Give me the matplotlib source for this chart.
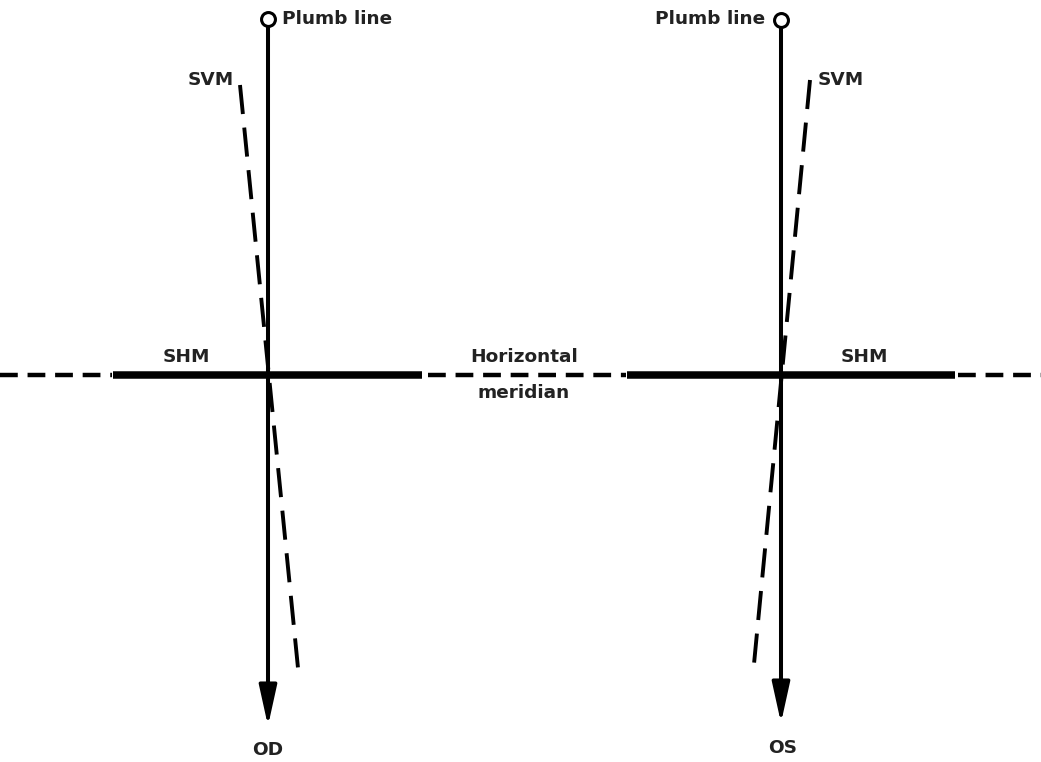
import matplotlib
matplotlib.use("Agg")
import matplotlib.pyplot as plt

plt.rcParams['font.family'] = ['DejaVu Sans']

W, H = 1041, 762

# plumb lines (x, top y, arrow tip y)
plumb_x = [268, 781]
plumb_top = [19, 20]
plumb_tip = [726, 723]

# horizontal meridian at y
hm_y = 375
dashed_segs = [(0, 112), (428, 626), (958, 1041)]
shm_segs = [(113, 422), (627, 955)]

# SVM tilted dashed lines (x0, y0, x1, y1)
svm_lines = [(240, 85, 298, 668), (810, 80, 754, 664)]

labels = [
    ("Plumb line", 282, 19, "left"),
    ("Plumb line", 765, 19, "right"),
    ("SVM", 234, 80, "right"),
    ("SVM", 818, 80, "left"),
    ("SHM", 186, 357, "center"),
    ("SHM", 864, 357, "center"),
    ("Horizontal", 524, 357, "center"),
    ("meridian", 524, 393, "center"),
    ("OD", 268, 750, "center"),
    ("OS", 783, 748, "center"),
]

fig = plt.figure(figsize=(W / 100, H / 100), dpi=100)
ax = fig.add_axes([0, 0, 1, 1])
ax.set_xlim(0, W)
ax.set_ylim(H, 0)
ax.axis("off")

for x, top, tip in zip(plumb_x, plumb_top, plumb_tip):
    ax.plot([x, x], [top + 6, tip - 25], color="black", lw=2.9, solid_capstyle="butt")
    ax.annotate("", xy=(x, tip), xytext=(x, tip - 36),
                arrowprops=dict(arrowstyle="-|>,head_length=2.5,head_width=0.55",
                                color="black", lw=2.5, shrinkA=0, shrinkB=0))
    ax.plot(x, top, marker="o", ms=10, mfc="white", mec="black", mew=2.2)

for a, b in dashed_segs:
    ax.plot([a, b], [hm_y, hm_y], color="black", lw=3.2, dashes=(4.0, 2.2), solid_capstyle="butt")
for a, b in shm_segs:
    ax.plot([a, b], [hm_y, hm_y], color="black", lw=5.4, solid_capstyle="butt")

for x0, y0, x1, y1 in svm_lines:
    ax.plot([x0, x1], [y0, y1], color="black", lw=2.8, dashes=(7.5, 3.5))

for txt, x, y, ha in labels:
    ax.text(x, y, txt, ha=ha, va="center", fontsize=13.3, fontweight="semibold", color="#222222")

fig.savefig("out.png", dpi=100)
